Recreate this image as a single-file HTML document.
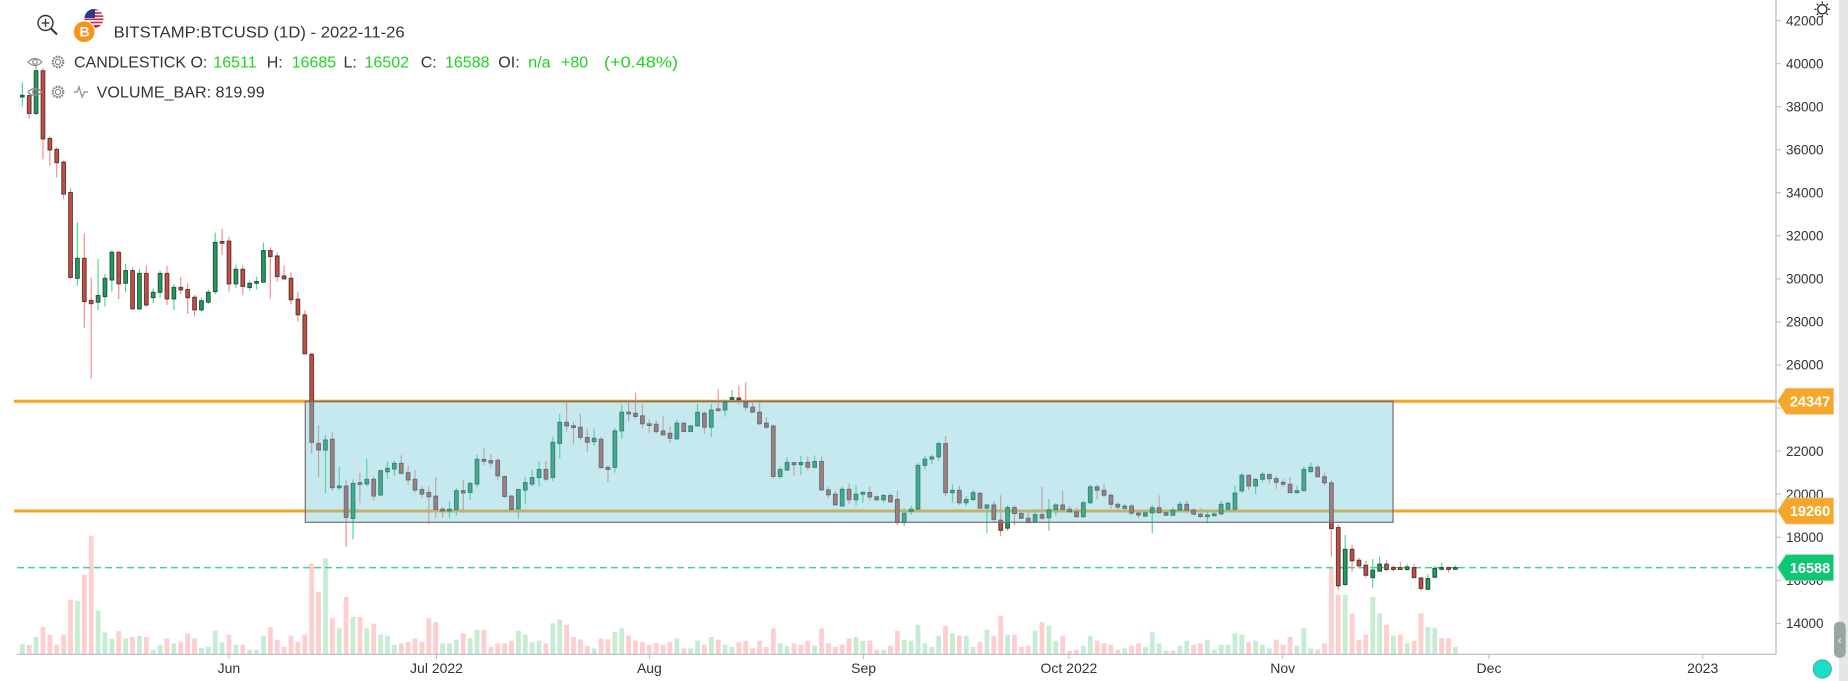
<!DOCTYPE html>
<html><head><meta charset="utf-8">
<style>
html,body{margin:0;padding:0;background:#fff;overflow:hidden;}
svg{display:block;font-family:"Liberation Sans",Arial,sans-serif;}
</style></head><body>
<svg id="s" width="1848" height="681" viewBox="0 0 1848 681" xmlns="http://www.w3.org/2000/svg">
<defs>
<clipPath id="fc"><circle cx="94" cy="18.5" r="9.5"/></clipPath>
</defs>
<rect width="1848" height="681" fill="#fff"/>
<g id="vol"></g>
<line x1="14" y1="401.3" x2="1777" y2="401.3" stroke="#f7a51f" stroke-width="3"/>
<line x1="14" y1="511" x2="1777" y2="511" stroke="#f7a51f" stroke-width="3"/>
<line x1="17" y1="567.6" x2="1777" y2="567.6" stroke="#3fd68c" stroke-width="1.5" stroke-dasharray="7 4"/>
<g id="cdl"></g>
<rect x="305.3" y="401.3" width="1087.7" height="121" fill="rgba(110,200,215,0.4)" stroke="#7d6b6b" stroke-width="1.2"/>
<line x1="1776" y1="0" x2="1776" y2="654.5" stroke="#b4bcc4" stroke-width="1.2"/>
<line x1="17" y1="654.3" x2="1776" y2="654.3" stroke="#b4bcc4" stroke-width="1.2"/>
<g stroke="#b4bcc4" stroke-width="1">
<line x1="1776" y1="20.7" x2="1781" y2="20.7"/><line x1="1776" y1="63.7" x2="1781" y2="63.7"/>
<line x1="1776" y1="106.7" x2="1781" y2="106.7"/><line x1="1776" y1="149.8" x2="1781" y2="149.8"/>
<line x1="1776" y1="192.8" x2="1781" y2="192.8"/><line x1="1776" y1="235.8" x2="1781" y2="235.8"/>
<line x1="1776" y1="278.9" x2="1781" y2="278.9"/><line x1="1776" y1="321.9" x2="1781" y2="321.9"/>
<line x1="1776" y1="365" x2="1781" y2="365"/><line x1="1776" y1="408" x2="1781" y2="408"/>
<line x1="1776" y1="451.1" x2="1781" y2="451.1"/><line x1="1776" y1="494.1" x2="1781" y2="494.1"/>
<line x1="1776" y1="537.2" x2="1781" y2="537.2"/><line x1="1776" y1="580.3" x2="1781" y2="580.3"/>
<line x1="1776" y1="623.3" x2="1781" y2="623.3"/>
<line x1="228.9" y1="654" x2="228.9" y2="659"/><line x1="436.5" y1="654" x2="436.5" y2="659"/>
<line x1="649.4" y1="654" x2="649.4" y2="659"/><line x1="863.6" y1="654" x2="863.6" y2="659"/>
<line x1="1068.9" y1="654" x2="1068.9" y2="659"/><line x1="1282.7" y1="654" x2="1282.7" y2="659"/>
<line x1="1489" y1="654" x2="1489" y2="659"/><line x1="1702.7" y1="654" x2="1702.7" y2="659"/>
</g>
<g font-size="13.5" fill="#333">
<text x="1786" y="25.4">42000</text><text x="1786" y="68.4">40000</text>
<text x="1786" y="111.4">38000</text><text x="1786" y="154.5">36000</text>
<text x="1786" y="197.5">34000</text><text x="1786" y="240.5">32000</text>
<text x="1786" y="283.6">30000</text><text x="1786" y="326.6">28000</text>
<text x="1786" y="369.7">26000</text><text x="1786" y="412.7">24000</text>
<text x="1786" y="455.8">22000</text><text x="1786" y="498.8">20000</text>
<text x="1786" y="541.9">18000</text><text x="1786" y="585">16000</text>
<text x="1786" y="628">14000</text>
</g>
<g font-size="14" fill="#333" text-anchor="middle">
<text x="228.9" y="673">Jun</text><text x="436.5" y="673">Jul 2022</text>
<text x="649.4" y="673">Aug</text><text x="863.6" y="673">Sep</text>
<text x="1068.9" y="673">Oct 2022</text><text x="1282.7" y="673">Nov</text>
<text x="1489" y="673">Dec</text><text x="1702.7" y="673">2023</text>
</g>
<polygon points="1777.5,401.3 1786,388.3 1833.5,388.3 1833.5,414.3 1786,414.3" fill="#f6a628" stroke="#e8c890" stroke-width="0.8"/>
<text x="1810" y="406.5" font-size="14.5" font-weight="bold" fill="#fff" text-anchor="middle">24347</text>
<polygon points="1777.5,511 1786,498 1833.5,498 1833.5,524 1786,524" fill="#f6a628" stroke="#e8c890" stroke-width="0.8"/>
<text x="1810" y="516.2" font-size="14.5" font-weight="bold" fill="#fff" text-anchor="middle">19260</text>
<polygon points="1777.5,567.6 1786,554.6 1833.5,554.6 1833.5,580.6 1786,580.6" fill="#0cc874" stroke="#8fd8b0" stroke-width="0.8"/>
<text x="1810" y="572.8" font-size="14.5" font-weight="bold" fill="#fff" text-anchor="middle">16588</text>
<rect x="1839" y="0" width="9" height="681" fill="#e6e6e6"/>
<rect x="1834" y="621.7" width="11.7" height="36" rx="5" fill="#9aa6a6"/>
<text x="1839.8" y="644" font-size="12" fill="#e8eeee" text-anchor="middle">‹</text>
<circle cx="1822.3" cy="669" r="9.2" fill="#19dfc9" stroke="#5a9a90" stroke-width="0.8"/>
<g stroke="#222" stroke-width="1.3" fill="none">
<circle cx="1822.3" cy="9.3" r="4.6"/>
<line x1="1822.3" y1="1.5" x2="1822.3" y2="3.5"/><line x1="1822.3" y1="15.1" x2="1822.3" y2="17.1"/>
<line x1="1814.5" y1="9.3" x2="1816.5" y2="9.3"/><line x1="1828.1" y1="9.3" x2="1830.1" y2="9.3"/>
<line x1="1816.8" y1="3.8" x2="1818.2" y2="5.2"/><line x1="1826.4" y1="13.4" x2="1827.8" y2="14.8"/>
<line x1="1827.8" y1="3.8" x2="1826.4" y2="5.2"/><line x1="1818.2" y1="13.4" x2="1816.8" y2="14.8"/>
</g>
<g stroke="#333" fill="none">
<circle cx="45.5" cy="23" r="7.5" stroke-width="1.4"/>
<line x1="51" y1="28.5" x2="57" y2="34.5" stroke-width="2"/>
<line x1="41.5" y1="23" x2="49.5" y2="23" stroke-width="1.3"/>
<line x1="45.5" y1="19" x2="45.5" y2="27" stroke-width="1.3"/>
</g>
<g clip-path="url(#fc)">
<rect x="84" y="8" width="20" height="21" fill="#c8283c"/>
<rect x="84" y="10.5" width="20" height="1.6" fill="#fff"/>
<rect x="84" y="13.7" width="20" height="1.6" fill="#fff"/>
<rect x="84" y="16.9" width="20" height="1.6" fill="#fff"/>
<rect x="84" y="20.1" width="20" height="1.6" fill="#fff"/>
<rect x="84" y="23.3" width="20" height="1.6" fill="#fff"/>
<rect x="84" y="8" width="11" height="10" fill="#2b3a8f"/>
</g>
<circle cx="84.2" cy="31.7" r="10.8" fill="#f7931a" stroke="#fff" stroke-width="1"/>
<text x="84.6" y="36.6" font-size="14" font-weight="bold" fill="#fff" text-anchor="middle">B</text>
<text x="113.7" y="37.5" font-size="16" fill="#333" textLength="291" lengthAdjust="spacingAndGlyphs">BITSTAMP:BTCUSD (1D) - 2022-11-26</text>
<g stroke="#8a8a8a" fill="none" stroke-width="1.2">
<path d="M28,62 Q35,55 42,62 Q35,69 28,62 Z"/><circle cx="35" cy="62" r="2.3"/>
<path d="M28,92 Q35,85 42,92 Q35,99 28,92 Z"/><circle cx="35" cy="92" r="2.3"/>
<circle cx="58" cy="62" r="2.6"/><circle cx="58" cy="62" r="5.3" stroke-width="2.2" stroke-dasharray="1.9 0.9"/>
<circle cx="58" cy="92" r="2.6"/><circle cx="58" cy="92" r="5.3" stroke-width="2.2" stroke-dasharray="1.9 0.9"/>
<polyline points="74,92 77,92 79,87 82,97 84.5,92 88,92"/>
</g>
<g font-size="16">
<text x="74" y="67.3" fill="#333">CANDLESTICK O:</text>
<text x="213.3" y="67.3" fill="#1ed41e">16511</text>
<text x="266.7" y="67.3" fill="#333">H:</text>
<text x="291.7" y="67.3" fill="#1ed41e">16685</text>
<text x="343.5" y="67.3" fill="#333">L:</text>
<text x="364.5" y="67.3" fill="#1ed41e">16502</text>
<text x="420.7" y="67.3" fill="#333">C:</text>
<text x="445" y="67.3" fill="#1ed41e">16588</text>
<text x="498.3" y="67.3" fill="#333">OI:</text>
<text x="528.3" y="67.3" fill="#1ed41e">n/a</text>
<text x="561" y="67.3" fill="#1ed41e">+80</text>
<text x="604" y="67.3" fill="#1ed41e" textLength="74" lengthAdjust="spacingAndGlyphs">(+0.48%)</text>
<text x="96.7" y="97.6" fill="#333" textLength="168" lengthAdjust="spacingAndGlyphs">VOLUME_BAR: 819.99</text>
</g>
</svg>
<script>
var D=[
[38470,39137,38003,38520],[38520,38620,37450,37690],[37690,39937,37600,39675],[39675,39800,35557,36502],[36530,36650,35247,35990],
[36020,36130,34720,35400],[35430,35500,33700,33944],[34020,34240,30000,30070],[30030,32630,29680,30960],[30960,32120,27730,28950],
[29000,30070,25380,28850],[28920,30930,28560,29230],[29180,30230,28720,30030],[29950,31350,29410,31240],[31240,31300,29060,29770],
[29800,30700,29380,30390],[30390,30550,28550,28610],[28610,30460,28550,30260],[30260,30620,28700,28790],[29130,29560,28870,29380],
[29380,30390,29130,30260],[30260,30620,28790,29070],[29070,29770,28560,29610],[29610,30100,29300,29490],[29510,29800,28370,29130],
[29150,29260,28250,28560],[28560,29130,28480,28990],[28920,29490,28830,29380],[29410,32150,29280,31700],[31720,32330,31120,31680],
[31760,31960,29410,29770],[29770,30650,29570,30450],[30450,30630,29240,29650],[29600,29920,29460,29800],[29800,30100,29520,29880],
[29850,31700,29850,31320],[31320,31480,29100,31040],[31070,31240,29870,30110],[30140,30620,29970,30000],[30030,30310,28830,29030],
[29060,29380,28020,28330],[28330,28530,26520,26520],[26500,26560,21900,22410],[22360,23200,20790,22050],[22050,22750,20050,22520],
[22550,22900,20160,20300],[20300,21280,20190,20380],[20380,20690,17550,18920],[18870,20690,17900,20500],[20530,20990,19600,20460],
[20470,21640,20350,20690],[20690,20810,19700,19910],[19960,21160,19900,21090],[21040,21520,20720,21200],[21170,21550,20840,21430],
[21430,21810,20890,20970],[21000,21310,20440,20660],[20690,21120,20070,20190],[20220,20350,19840,20000],[20080,20350,18610,19880],
[19910,20800,18900,19290],[19290,19410,18920,19230],[19230,19660,18880,19290],[19290,20280,19010,20160],[20160,20660,19120,20060],
[20080,20580,19730,20500],[20470,21830,20320,21620],[21620,22140,21340,21530],[21560,21860,21240,21450],[21580,21640,20660,20850],
[20820,20870,19840,19890],[19910,19960,19260,19290],[19320,20250,18850,20220],[20190,20800,19560,20540],[20470,21120,20350,20770],
[20770,21510,20350,21150],[21150,21550,20620,20700],[20770,22670,20620,22410],[22360,23730,21650,23340],[23340,24260,22910,23170],
[23170,23370,22300,23110],[23110,23730,22490,22640],[22640,23040,21950,22410],[22440,23040,22240,22600],[22550,22670,21200,21230],
[21250,21310,20570,21150],[21250,23080,21000,22940],[22940,24150,22570,23810],[23810,24260,23390,23730],[23760,24710,23510,23610],
[23640,24150,23050,23270],[23270,23490,22840,23190],[23250,23450,22780,22910],[22940,23640,22780,22750],[22830,23140,22370,22600],
[22570,23450,22520,23300],[23300,23340,22890,22910],[22910,23220,22890,23170],[23170,24200,23140,23810],[23760,23840,22810,23110],
[23110,24200,22650,23910],[23960,24880,23840,23890],[23910,24410,23600,24270],[24420,24850,24340,24470],[24470,25050,24150,24390],
[24260,25200,23880,24040],[24040,24380,23800,23810],[23810,24380,23220,23270],[23300,23580,23030,23110],[23170,23220,20710,20820],
[20820,21280,20710,21150],[21120,21700,21090,21480],[21470,21470,20850,21370],[21370,21790,20880,21470],[21480,21750,21100,21250],
[21250,21800,21200,21520],[21520,21750,20150,20200],[20200,20350,19820,19970],[20000,20140,19500,19500],[19450,20340,19420,20230],
[20230,20490,19540,19740],[19740,20420,19490,20000],[20000,20160,19600,20080],[20080,20350,19690,19870],[19880,19950,19690,19740],
[19740,20000,19620,19940],[19940,20040,19620,19640],[19760,20150,18570,18680],[18680,19350,18520,19110],[19200,19450,19050,19300],
[19310,21450,19280,21340],[21340,21800,21150,21630],[21630,21850,21380,21730],[21730,22450,21550,22350],[22350,22710,19900,20070],
[20070,20480,19600,20180],[20180,20400,19500,19600],[19600,19900,19450,19750],[19750,20200,19680,20070],[20040,20100,19350,19350],
[19350,19550,18210,19500],[19500,19650,18750,18830],[18790,19950,18050,18320],[18420,19500,18300,19380],[19380,19480,18550,19100],
[19100,19280,18850,18880],[18880,19150,18650,18680],[18700,19300,18650,19050],[19050,20340,18800,18880],[18900,19780,18300,19280],
[19280,19600,19000,19500],[19500,20150,19150,19300],[19300,19450,19150,19180],[19180,19380,18950,18950],[18950,19700,18900,19600],
[19600,20450,19550,20340],[20340,20450,19750,20180],[20180,20450,19850,19950],[19950,20030,19320,19530],[19530,19620,19300,19400],
[19340,19520,19280,19450],[19450,19530,19020,19120],[19120,19250,18880,19030],[18980,19220,18940,19130],[19130,19500,18180,19370],
[19370,19950,19100,19140],[19140,19230,18980,19020],[19020,19400,18990,19260],[19260,19680,19150,19530],[19530,19700,19100,19260],
[19260,19350,19020,19070],[19070,19350,18900,18960],[18960,19250,18650,19030],[19000,19250,18980,19080],[19080,19700,19050,19530],
[19300,19650,19150,19580],[19300,20400,19250,20050],[20150,21000,20060,20880],[20880,20900,20200,20380],[20380,20750,20000,20690],
[20690,21050,20550,20920],[20920,20950,20500,20720],[20720,20850,20250,20550],[20550,20700,20350,20460],[20460,20800,20050,20070],
[20070,20400,20030,20160],[20160,21300,20150,21150],[21050,21480,21000,21250],[21250,21350,20780,20810],[20810,21000,20400,20530],
[20530,20650,17100,18400],[18450,18600,15540,15740],[15800,18100,15750,17440],[17440,17650,16400,16900],[16930,17050,16550,16670],
[16700,16900,16100,16230],[16120,16990,15640,16470],[16420,17100,16400,16750],[16750,16950,16400,16500],[16590,16700,16400,16500],
[16590,16850,16550,16500],[16500,16750,16450,16620],[16590,16750,16100,16120],[16110,16150,15500,15620],[15580,16280,15560,16080],
[16140,16680,16100,16555],[16509,16800,16450,16586],[16580,16620,16350,16511],[16511,16685,16502,16588]
];
var V=[10.3,9,17,27,19.3,9.3,19.3,54.3,53.3,79.3,
118.3,43.3,21.7,15.3,23,15.7,17,18,17,4.3,
9.3,15.7,10.7,12,20.7,15.7,6,7,23.3,11.7,
19.3,9.3,9.3,4.3,4.3,18.3,27,14.3,7,18.3,
12,19.3,90.7,62.3,95.7,35.7,25.7,57,37,37,
25.7,30.3,19.3,18.3,9.3,10.7,12,15.7,12,35.7,
32,10.7,10.7,14.3,20.7,15.7,24.3,24.3,7,10.7,
10.7,13.3,23.3,19.3,12,13.3,10.7,30.7,34.3,29.3,
17,14.7,8.3,5.7,15.7,14.7,22,25.7,18.3,13.3,
12,9.3,10.7,9.3,12,15.7,5.7,5.7,13.3,9.3,
17,14.3,9.3,7,12,13.3,5.7,13.3,7,25.7,
10.7,8.3,10.7,9.3,13.3,8.3,25.7,10.7,7,9.3,
15.7,17,13.3,13.3,4.3,4.3,8.3,23.3,14.3,13.3,
29.3,10.7,7,18.3,28.3,20.7,18.3,18.3,7,12,
24.3,18.3,38.3,19.3,19.3,7,8.3,23.3,32,28.3,
13.3,18.3,3.3,4.3,8.3,18.3,13.3,10.7,9.3,4.3,
5.7,8.3,10.7,7,22,10.7,3.3,3.3,8.3,13.3,
9.3,10.7,14.3,4.3,9.3,9.3,20.7,19.3,12,13.3,
9.3,5.7,14.3,9.3,17,8.3,25.7,5.7,4.3,10.7,
86,59.3,59.3,40.7,14.3,19.3,57,40.7,29.3,18.3,
19.3,10.7,13.3,40.7,27,25.7,15.7,15.7,7];
var VC="grgrrrrrgr"+"rgggrgrgrg"+"grgrrrgggg"+"rgrgggrrrr"+"rrrrgrgrgr"+"grgggrrrrr"+"rgggrggrrr"+"rrggggrggr"+"rrrgrrggrr"+"rrrrrgrggr"+"grgg"
+"rrrrrrggrr"+"rgrrrrrggr"+"rgrrgggggg"+"rgrggrgrrg"+"rrrgrggrrr"+"ggrrrrgrrg"+"gggrggrrgg"+"ggggrgggrr"+"rgggrrrrgr"+"rrggrgrgrr"+"ggrrg";
function Y(p){return 623.3-(p-14000)*0.021522;}
var vh='',ch='';
for(var i=0;i<D.length;i++){
  var x=22.3+i*6.89;
  var v=V[i]||5;
  var g=VC.charAt(i)=='g';
  vh+='<rect x="'+(x-2.4).toFixed(2)+'" y="'+(654-v).toFixed(2)+'" width="4.8" height="'+v+'" fill="'+(g?'#c6ecd4':'#ffcfcf')+'"/>';
  var d=D[i],up=d[3]>=d[0];
  var yt=Y(Math.max(d[0],d[3])),yb=Y(Math.min(d[0],d[3]));
  if(yb-yt<1.8){var m=(yt+yb)/2;yt=m-0.9;yb=m+0.9;}
  ch+='<line x1="'+x.toFixed(2)+'" y1="'+Y(d[1]).toFixed(2)+'" x2="'+x.toFixed(2)+'" y2="'+Y(d[2]).toFixed(2)+'" stroke="'+(up?'#4fd88f':'#f3908a')+'" stroke-width="1.2"/>';
  ch+='<rect x="'+(x-1.9).toFixed(2)+'" y="'+yt.toFixed(2)+'" width="3.8" height="'+(yb-yt).toFixed(2)+'" fill="'+(up?'#17a15c':'#cc4b40')+'" stroke="rgba(30,30,30,0.72)" stroke-width="1"/>';
}
document.getElementById('vol').innerHTML=vh;
document.getElementById('cdl').innerHTML=ch;
</script>
</body></html>
